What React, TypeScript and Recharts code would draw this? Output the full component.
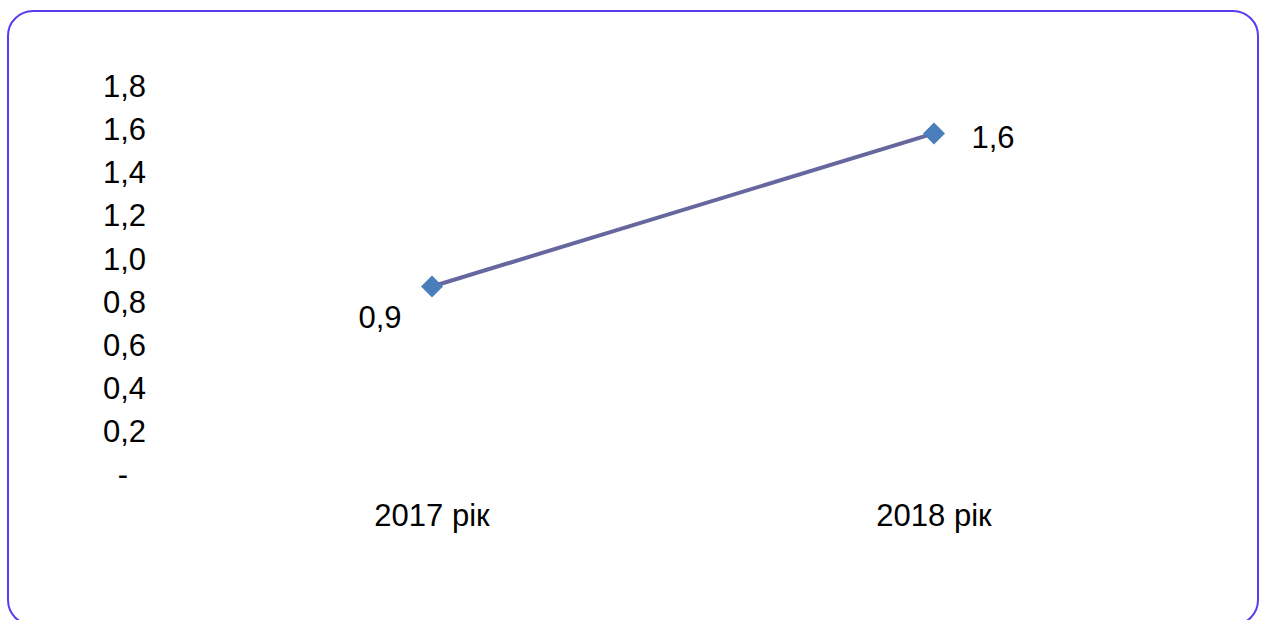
import { LineChart, Line, XAxis, YAxis, LabelList } from 'recharts'

const years = ['2017 рік', '2018 рік']
const values = [0.87, 1.58]
const valueLabels = ['0,9', '1,6']
const yTicks = [0, 0.2, 0.4, 0.6, 0.8, 1.0, 1.2, 1.4, 1.6, 1.8]

const data = years.map((year, i) => ({ year, value: values[i], label: valueLabels[i] }))

const FONT = '"Liberation Sans", Arial, sans-serif'
const FS = 31

const fmt = (v: number) => (v === 0 ? '-' : v.toFixed(1).replace('.', ','))

function YTick({ x, y, payload }: any) {
  const v = payload.value as number
  return (
    <text
      x={v === 0 ? x - 45 : x - 27}
      y={y}
      dy="0.36em"
      textAnchor="end"
      fontFamily={FONT}
      fontSize={FS}
      fill="#000"
    >
      {fmt(v)}
    </text>
  )
}

function XTick({ x, y, payload }: any) {
  return (
    <text x={x} y={y + 33} dy="0.36em" textAnchor="middle" fontFamily={FONT} fontSize={FS} fill="#000">
      {payload.value}
    </text>
  )
}

function Diamond({ cx, cy }: any) {
  const r = 11
  return <polygon points={`${cx},${cy - r} ${cx + r},${cy} ${cx},${cy + r} ${cx - r},${cy}`} fill="#4a7ebb" />
}

function ValueLabel({ x, y, value, index }: any) {
  // first label sits below-left of its point, second to the right
  const dx = index === 0 ? -52 : 59
  const dy = index === 0 ? 30 : 3
  return (
    <text x={x + dx} y={y + dy} dy="0.36em" textAnchor="middle" fontFamily={FONT} fontSize={FS} fill="#000">
      {value}
    </text>
  )
}

export default function App() {
  return (
    <div style={{ position: 'fixed', left: 0, top: 0, width: 1263, height: 620, overflow: 'hidden', background: '#fff' }}>
      <div
        style={{
          position: 'absolute',
          left: 7,
          top: 10,
          width: 1248,
          height: 612,
          border: '2px solid #5a3cf0',
          borderRadius: 26,
        }}
      />
      <div style={{ position: 'absolute', left: 0, top: 0 }}>
        <LineChart width={1263} height={620} data={data} margin={{ top: 86, right: 78, bottom: 0, left: 0 }}>
          <XAxis
            dataKey="year"
            axisLine={false}
            tickLine={false}
            height={146}
            tick={<XTick />}
            interval={0}
            padding={{ left: 251, right: 251 }}
          />
          <YAxis
            domain={[0, 1.8]}
            ticks={yTicks}
            axisLine={false}
            tickLine={false}
            width={181}
            tick={<YTick />}
            interval={0}
          />
          <Line
            type="linear"
            dataKey="value"
            stroke="#67679f"
            strokeWidth={4}
            dot={<Diamond />}
            activeDot={false}
            isAnimationActive={false}
          >
            <LabelList dataKey="label" content={<ValueLabel />} />
          </Line>
        </LineChart>
      </div>
    </div>
  )
}
